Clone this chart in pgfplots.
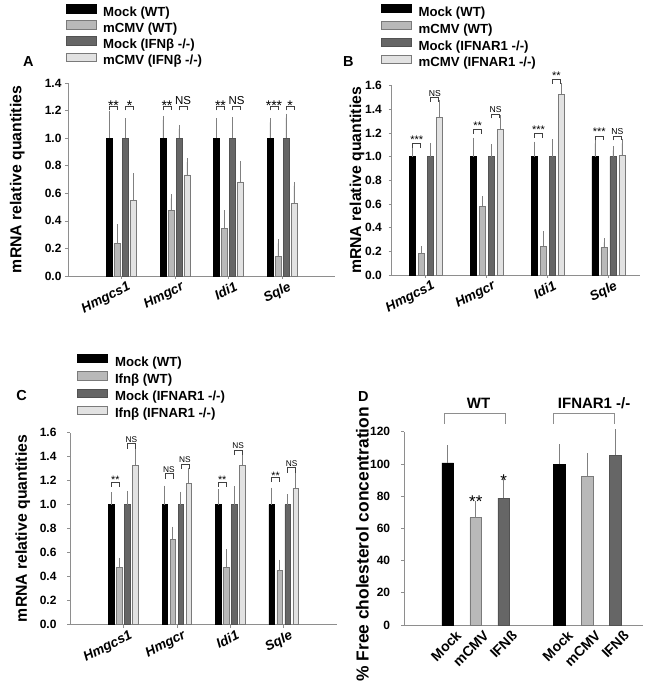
\documentclass[border=0pt]{standalone}
\usepackage{pgfplots}
\pgfplotsset{compat=1.18}
\usepackage{pgfplotstable}
\usepackage{fontspec}
\setmainfont{Liberation Sans}

\definecolor{cA}{HTML}{000000}
\definecolor{cB}{HTML}{B9B9B9}
\definecolor{cC}{HTML}{666666}
\definecolor{cD}{HTML}{E2E2E2}
\definecolor{edge}{HTML}{7A7A7A}
\definecolor{axc}{HTML}{8E8E8E}
\definecolor{errc}{HTML}{808080}

\newcommand\fs[1]{\fontsize{#1}{#1}\selectfont}
\newcommand\st[1]{\raisebox{\stdrop}{\fs{\stsize}#1}}
\newcommand\sig[6]{%
 \draw[brk] ([xshift=#3pt,yshift=-\brd]axis cs:#1,#2) -- ([xshift=#3pt]axis cs:#1,#2) -- ([xshift=#4pt]axis cs:#1,#2) -- ([xshift=#4pt,yshift=-\brd]axis cs:#1,#2);
 \node[anchor=base,inner sep=0pt,yshift=1.2pt,font=\sigf] at ([xshift=#5pt]axis cs:#1,#2) {#6};}

\tikzset{brk/.style={draw=black!75,line width=0.6pt}}

\pgfplotsset{
 panel/.style={scale only axis, axis x line*=bottom, axis y line*=left,
   axis line style={axc,line width=0.8pt,-}, tick style={axc,line width=0.6pt},
   tick align=outside, major tick length=3pt, clip=false, ymin=0,
   /pgf/number format/assume math mode=true,
   yticklabel style={font=\bfseries\fs{12},anchor=east,inner sep=0pt},
   ylabel style={font=\bfseries\fs{15.8},at={(axis description cs:0,0.5)},anchor=center},
   legend cell align=left,
   legend style={draw=none,fill=none,anchor=north west,inner sep=0pt,column sep=6pt,
     font=\bfseries\fs{13.2},nodes={inner sep=1pt,text height=9pt,text depth=3pt}},
 },
 gene/.style={xtick={1,2,3,4},xticklabels={Hmgcs1,Hmgcr,Idi1,Sqle},
   xticklabel style={font=\bfseries\itshape\fs{13.5},rotate=27,anchor=north east,inner sep=0pt,xshift=4pt,yshift=-4pt},
   yticklabel style={/pgf/number format/.cd,fixed,fixed zerofill,precision=1,/tikz/.cd}},
 lgd/.style={legend image code/.code={\draw[##1,line width=0.6pt] (0pt,0.5pt) rectangle (30pt,8.8pt);}},
 eb/.style={error bars/y dir=plus, error bars/y explicit,
   error bars/error bar style={errc,line width=0.7pt},
   error bars/error mark options={errc,mark size=4pt,line width=0.7pt}},
 s1/.style={fill=cA,draw=black,line width=0.5pt,lgd,eb},
 s2/.style={fill=cB,draw=edge,line width=0.5pt,lgd,eb},
 s3/.style={fill=cC,draw=cC!80!black,line width=0.5pt,lgd,eb},
 s4/.style={fill=cD,draw=edge,line width=0.5pt,lgd,eb},
}

\pgfplotstableread{
x m1 e1 m2 e2 m3 e3 m4 e4
1 1 0.167 0.235 0.111 1 0.114 0.550 0.167
2 1 0.133 0.477 0.087 1 0.068 0.734 0.092
3 1 0.114 0.346 0.102 1 0.121 0.683 0.123
4 1 0.114 0.143 0.094 1 0.148 0.528 0.126
}\tabA
\pgfplotstableread{
x m1 e1 m2 e2 m3 e3 m4 e4
1 1 0.065 0.183 0.028 1 0.082 1.332 0.110
2 1 0.127 0.580 0.051 1 0.070 1.231 0.084
3 1 0.093 0.242 0.093 1 0.113 1.527 0.062
4 1 0.113 0.234 0.042 1 0.054 1.014 0.099
}\tabB
\pgfplotstableread{
x m1 e1 m2 e2 m3 e3 m4 e4
1 1 0.067 0.478 0.047 1 0.081 1.328 0.119
2 1 0.125 0.711 0.072 1 0.075 1.178 0.094
3 1 0.092 0.478 0.116 1 0.117 1.328 0.055
4 1 0.108 0.450 0.058 1 0.053 1.136 0.097
}\tabC
\pgfplotstableread{
x y e
0 100.6 8.5
4 99.9 9.7
}\dMock
\pgfplotstableread{
x y e
1 66.6 7.7
5 92.5 11.6
}\dCMV
\pgfplotstableread{
x y e
2 78.8 9.1
6 105.5 13.4
}\dIFN

\begin{document}
\begin{tikzpicture}
\useasboundingbox (0,0) rectangle (657pt,-683pt);

\node[font=\bfseries\fs{14.5}] at (28.3pt,-61.7pt) {A};
\node[font=\bfseries\fs{14.5}] at (348.3pt,-61.7pt) {B};
\node[font=\bfseries\fs{14.5}] at (21.7pt,-396pt) {C};
\node[font=\bfseries\fs{14.5}] at (363.3pt,-396.7pt) {D};

% ---------------- Panel A
\def\brd{4.3pt}\def\sigf{\fs{11.5}}\def\stsize{14}\def\stdrop{-5.4pt}
\begin{axis}[panel,gene,at={(68pt,-276pt)},anchor=south west,width=267.5pt,height=193pt,
  xmin=0,xmax=5,ymax=1.4,ytick={0,0.2,0.4,0.6,0.8,1.0,1.2,1.4},
  ybar=2.4pt,bar width=5.6pt,
  ylabel={mRNA relative quantities},ylabel style={yshift=50.8pt},
  yticklabel style={xshift=-3.3pt},
  legend style={at={(axis description cs:-0.01,1.409)},row sep=0pt}]
\addplot[s1] table[x=x,y=m1,y error=e1]{\tabA}; \addlegendentry{Mock (WT)}
\addplot[s2] table[x=x,y=m2,y error=e2]{\tabA}; \addlegendentry{mCMV (WT)}
\addplot[s3] table[x=x,y=m3,y error=e3]{\tabA}; \addlegendentry{Mock (IFNβ -/-)}
\addplot[s4] table[x=x,y=m4,y error=e4]{\tabA}; \addlegendentry{mCMV (IFNβ -/-)}
\sig{1}{1.233}{-12}{-4}{-8}{\st{**}}
\sig{1}{1.233}{4}{12}{8}{\st{*}}
\sig{2}{1.233}{-12}{-4}{-8}{\st{**}}
\sig{2}{1.233}{4}{12}{8}{NS}
\sig{3}{1.233}{-12}{-4}{-8}{\st{**}}
\sig{3}{1.233}{4}{12}{8}{NS}
\sig{4}{1.233}{-12}{-4}{-8}{\st{***}}
\sig{4}{1.233}{4}{12}{8}{\st{*}}
\end{axis}

% ---------------- Panel B
\def\brd{4.3pt}\def\sigf{\fs{8.6}}\def\stsize{11}\def\stdrop{-1pt}
\begin{axis}[panel,gene,at={(391.7pt,-275pt)},anchor=south west,width=248.3pt,height=189.3pt,
  xmin=0.44,xmax=4.52,ymax=1.6,ytick={0,0.2,0.4,0.6,0.8,1.0,1.2,1.4,1.6},
  ybar=3pt,bar width=6pt,
  ylabel={mRNA relative quantities},ylabel style={yshift=34.7pt},
  yticklabel style={xshift=-6.7pt},
  legend style={at={(axis description cs:-0.044,1.432)},row sep=0.8pt}]
\addplot[s1] table[x=x,y=m1,y error=e1]{\tabB}; \addlegendentry{Mock (WT)}
\addplot[s2] table[x=x,y=m2,y error=e2]{\tabB}; \addlegendentry{mCMV (WT)}
\addplot[s3] table[x=x,y=m3,y error=e3]{\tabB}; \addlegendentry{Mock (IFNAR1 -/-)}
\addplot[s4] table[x=x,y=m4,y error=e4]{\tabB}; \addlegendentry{mCMV (IFNAR1 -/-)}
\sig{1}{1.113}{-13}{-5}{-9}{\st{***}}
\sig{1}{1.502}{5}{13}{9}{NS}
\sig{2}{1.231}{-13}{-5}{-9}{\st{**}}
\sig{2}{1.361}{5}{13}{9}{NS}
\sig{3}{1.198}{-13}{-5}{-9}{\st{***}}
\sig{3}{1.654}{5}{13}{9}{\st{**}}
\sig{4}{1.175}{-13}{-5}{-9}{\st{***}}
\sig{4}{1.175}{5}{13}{9}{NS}
\end{axis}

% ---------------- Panel C
\def\brd{5pt}\def\sigf{\fs{8.3}}\def\stsize{10.7}\def\stdrop{-3.2pt}
\begin{axis}[panel,gene,at={(70pt,-624.5pt)},anchor=south west,width=267pt,height=192pt,
  xmin=0,xmax=5,ymax=1.6,ytick={0,0.2,0.4,0.6,0.8,1.0,1.2,1.4,1.6},
  ybar=2.6pt,bar width=5.4pt,
  ylabel={mRNA relative quantities},ylabel style={yshift=47.3pt},
  yticklabel style={xshift=-10.3pt},
  legend style={at={(axis description cs:0.027,1.410)},row sep=1.2pt}]
\addplot[s1] table[x=x,y=m1,y error=e1]{\tabC}; \addlegendentry{Mock (WT)}
\addplot[s2] table[x=x,y=m2,y error=e2]{\tabC}; \addlegendentry{Ifnβ (WT)}
\addplot[s3] table[x=x,y=m3,y error=e3]{\tabC}; \addlegendentry{Mock (IFNAR1 -/-)}
\addplot[s4] table[x=x,y=m4,y error=e4]{\tabC}; \addlegendentry{Ifnβ (IFNAR1 -/-)}
\sig{1}{1.189}{-12}{-4}{-8}{\st{**}}
\sig{1}{1.508}{4}{12}{8}{NS}
\sig{2}{1.256}{-12}{-4}{-8}{NS}
\sig{2}{1.339}{4}{12}{8}{NS}
\sig{3}{1.189}{-12}{-4}{-8}{\st{**}}
\sig{3}{1.453}{4}{12}{8}{NS}
\sig{4}{1.228}{-12}{-4}{-8}{\st{**}}
\sig{4}{1.306}{4}{12}{8}{NS}
\end{axis}

% ---------------- Panel D
\begin{axis}[panel,at={(404pt,-625pt)},anchor=south west,width=239.3pt,height=193.3pt,
  xmin=-1.57,xmax=7.0,ymax=120,ytick={0,20,40,60,80,100,120},
  xtick={0,1,2,4,5,6},xticklabels={Mock,mCMV,IFNß,Mock,mCMV,IFNß},
  xtick style={draw=none},
  xticklabel style={font=\bfseries\fs{14},rotate=45,anchor=north east,inner sep=0pt,xshift=4pt,yshift=-6pt},
  ybar,bar width=11.7pt,
  ylabel={\% Free cholesterol concentration},ylabel style={yshift=41.5pt,xshift=-16pt,font=\bfseries\fs{17.4}},
  yticklabel style={xshift=-10.7pt}]
\addplot[fill=cA,draw=black,line width=0.5pt,bar shift=0pt,eb] table[x=x,y=y,y error=e]{\dMock};
\addplot[fill=cB,draw=edge,line width=0.5pt,bar shift=0pt,eb] table[x=x,y=y,y error=e]{\dCMV};
\addplot[fill=cC,draw=cC!80!black,line width=0.5pt,bar shift=0pt,eb] table[x=x,y=y,y error=e]{\dIFN};
\node[anchor=base,inner sep=0pt,font=\fs{17}] at (axis cs:1,73.2) {**};
\node[anchor=base,inner sep=0pt,font=\fs{17}] at (axis cs:2,86) {*};
\draw[axc,line width=0.9pt] (axis cs:-0.13,124.8) -- (axis cs:-0.13,131.4) -- (axis cs:2.05,131.4) -- (axis cs:2.05,124.8);
\draw[axc,line width=0.9pt] (axis cs:3.785,124.8) -- (axis cs:3.785,131.4) -- (axis cs:5.97,131.4) -- (axis cs:5.97,124.8);
\node[anchor=base,inner sep=0pt,font=\bfseries\fs{15}] at (axis cs:1.1,134.3) {WT};
\node[anchor=base,inner sep=0pt,font=\bfseries\fs{15}] at (axis cs:5.24,134.3) {IFNAR1 -/-};
\end{axis}
\end{tikzpicture}
\end{document}
